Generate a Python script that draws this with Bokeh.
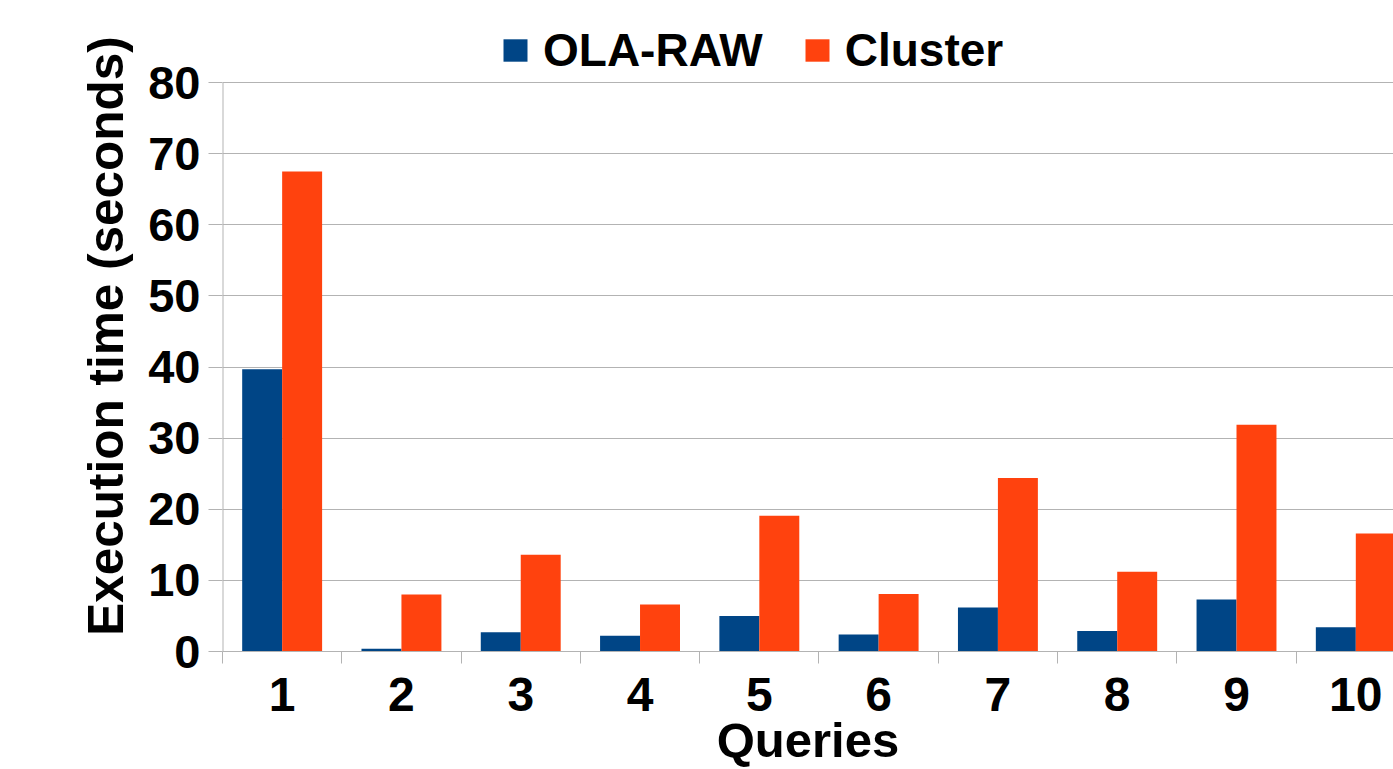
from bokeh.plotting import figure
from bokeh.models import FixedTicker, Legend, LegendItem, ColumnDataSource
from bokeh.transform import dodge
from bokeh.embed import file_html
from bokeh.resources import INLINE

# ---- data ----
queries = ["1", "2", "3", "4", "5", "6", "7", "8", "9", "10"]
ola_raw = [39.7, 0.4, 2.7, 2.2, 5.0, 2.4, 6.2, 2.9, 7.3, 3.4]
cluster = [67.5, 8.0, 13.6, 6.6, 19.1, 8.1, 24.4, 11.2, 31.9, 16.6]
y_ticks = [0, 10, 20, 30, 40, 50, 60, 70, 80]

BLUE = "#004586"
ORANGE = "#ff420e"
GRID = "#b3b3b3"
FONT = "Liberation Sans"

positions = list(range(1, len(queries) + 1))
boundaries = [i + 0.5 for i in range(0, len(queries) + 1)]

src = ColumnDataSource(dict(x=positions, ola=ola_raw, cluster=cluster))

y_max = y_ticks[-1]
p = figure(width=1393, height=769, output_backend="svg", toolbar_location=None,
           x_range=(0.5, 10.316), y_range=(0, 88.73),
           min_border_left=222, min_border_right=0, min_border_top=20,
           min_border_bottom=117)
p.outline_line_color = None
p.background_fill_color = "white"

bw = 0.335
r1 = p.vbar(x=dodge("x", -bw / 2), top="ola", width=bw, source=src,
            fill_color=BLUE, line_color=None)
r2 = p.vbar(x=dodge("x", bw / 2), top="cluster", width=bw, source=src,
            fill_color=ORANGE, line_color=None)

# grid
p.xgrid.visible = False
p.ygrid.ticker = FixedTicker(ticks=y_ticks)
p.ygrid.grid_line_color = GRID
p.ygrid.grid_line_width = 1

# y axis line only up to the top tick
p.segment(x0=[boundaries[0]], y0=[y_ticks[0]], x1=[boundaries[0]], y1=[y_max],
          line_color=GRID, line_width=2)

# y axis
ya = p.yaxis[0]
ya.ticker = FixedTicker(ticks=y_ticks)
ya.axis_line_color = None
ya.major_tick_line_color = GRID
ya.major_tick_out = 14
ya.major_tick_in = 0
ya.minor_tick_out = 0
ya.minor_tick_in = 0
ya.major_label_text_font = FONT
ya.major_label_text_font_style = "bold"
ya.major_label_text_font_size = "47px"
ya.major_label_text_color = "black"
ya.major_label_standoff = 8
ya.axis_label = "Execution time (seconds)"
ya.axis_label_text_font = FONT
ya.axis_label_text_font_style = "bold"
ya.axis_label_text_font_size = "49.5px"
ya.axis_label_text_color = "black"
ya.axis_label_standoff = 12

# x axis
xa = p.xaxis[0]
xa.ticker = FixedTicker(ticks=positions, minor_ticks=boundaries)
xa.major_label_overrides = {pos: q for pos, q in zip(positions, queries)}
xa.axis_line_color = GRID
xa.major_tick_out = 0
xa.major_tick_in = 0
xa.minor_tick_line_color = GRID
xa.minor_tick_out = 12
xa.minor_tick_in = 0
xa.major_label_text_font = FONT
xa.major_label_text_font_style = "bold"
xa.major_label_text_font_size = "48px"
xa.major_label_text_color = "black"
xa.major_label_standoff = 14
xa.axis_label = "Queries"
xa.axis_label_text_font = FONT
xa.axis_label_text_font_style = "bold"
xa.axis_label_text_font_size = "49px"
xa.axis_label_text_color = "black"
xa.axis_label_standoff = -1

legend = Legend(items=[LegendItem(label="OLA-RAW", renderers=[r1]),
                       LegendItem(label="Cluster", renderers=[r2])],
                orientation="horizontal", location=(278, 574))
legend.glyph_width = 30
legend.glyph_height = 28
legend.label_standoff = 13
legend.spacing = 39
legend.padding = 0
legend.margin = 0
legend.border_line_color = None
legend.background_fill_alpha = 0
legend.label_text_font = FONT
legend.label_text_font_style = "bold"
legend.label_text_font_size = "46px"
legend.label_text_color = "black"
p.add_layout(legend, "center")

open("out.html", "w").write(file_html(p, INLINE))
